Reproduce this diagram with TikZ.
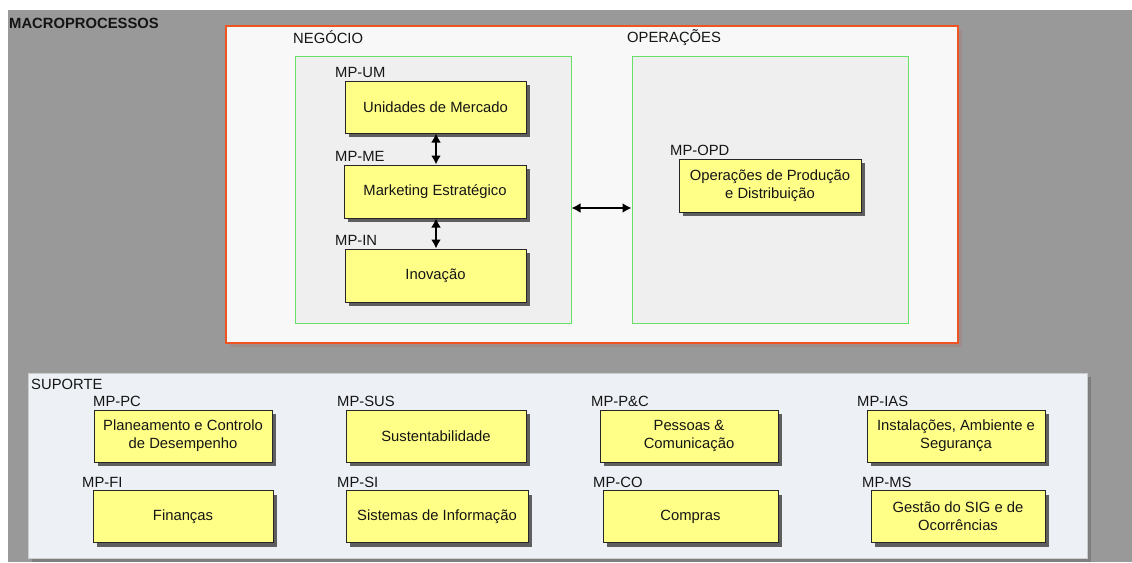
\documentclass[tikz,border=0pt]{standalone}
\usepackage{fontspec}
\setmainfont{Liberation Sans}
\usetikzlibrary{arrows.meta}

\definecolor{bggray}{HTML}{999999}
\definecolor{redline}{HTML}{EE5522}
\definecolor{panelfill}{HTML}{F8F8F8}
\definecolor{panelshadow}{HTML}{9E8C8A}
\definecolor{supshadow}{HTML}{7E7E7E}
\definecolor{greenline}{HTML}{66E066}
\definecolor{groupfill}{HTML}{EFEFEF}
\definecolor{procfill}{HTML}{FFFF88}
\definecolor{procshadow}{HTML}{5E5E5E}
\definecolor{supfill}{HTML}{EDF0F5}
\definecolor{supline}{HTML}{CCCCCC}
\definecolor{txt}{HTML}{151515}

\tikzset{
  panel/.style={draw=redline, line width=1.8pt, fill=panelfill, inner sep=0pt,
    preaction={fill=panelshadow, transform canvas={xshift=4pt,yshift=-4pt}}},
  group/.style={draw=greenline, line width=1pt, fill=groupfill, inner sep=0pt},
  support/.style={draw=supline, line width=1pt, fill=supfill, inner sep=0pt,
    preaction={fill=supshadow, transform canvas={xshift=4pt,yshift=-4pt}}},
  proc/.style={draw=black!85, line width=1pt, fill=procfill, inner sep=0pt,
    align=center, text=txt, minimum height=52pt,
    preaction={fill=procshadow, transform canvas={xshift=4pt,yshift=-4pt}}},
  lbl/.style={anchor=base west, inner sep=0pt, text=txt},
  twoway/.style={line width=2pt, black,
    {Latex[length=9pt,width=10pt]}-{Latex[length=9pt,width=10pt]}},
}

\begin{document}
\begin{tikzpicture}[x=1pt, y=-1pt, font=\fontsize{14.8}{18}\selectfont]
  \useasboundingbox (0,0) rectangle (1132,562);
  \fill[bggray] (8,10) rectangle (1132,562);

  \node[lbl, font=\fontsize{14.8}{18}\selectfont\bfseries] (title) at (9,28) {MACROPROCESSOS};

  % core processes panel
  \node[panel, minimum width=732pt, minimum height=317pt] (core) at (592,184.5) {};
  \node[lbl] (negt) at (293,43) {NEGÓCIO};
  \node[lbl] (opet) at (627,42.5) {OPERAÇÕES};

  \node[group, minimum width=276pt, minimum height=267pt] (neg) at (433,189.5) {};
  \node[group, minimum width=276pt, minimum height=267pt] (ope) at (770,189.5) {};

  \node[lbl] (umt) at (335,77) {MP-UM};
  \node[proc, minimum width=181pt] (um) at (435.5,107) {Unidades de Mercado};
  \node[lbl] (met) at (335,161.5) {MP-ME};
  \node[proc, minimum width=182pt, minimum height=53pt] (me) at (435,191.5) {Marketing Estratégico};
  \node[lbl] (int) at (335,245.5) {MP-IN};
  \node[proc, minimum width=181pt, minimum height=53pt] (in) at (435.5,275.5) {Inovação};

  \node[lbl] (opdt) at (670,155) {MP-OPD};
  \node[proc, minimum width=182pt, minimum height=53pt] (opd) at (770,185.5) {Operações de Produção\\e Distribuição};

  \draw[twoway] (um.south -| 436,0) -- (me.north -| 436,0);
  \draw[twoway] (me.south -| 436,0) -- (in.north -| 436,0);
  \draw[twoway] ([yshift=-18.5pt]neg.east) -- ([yshift=-18.5pt]ope.west);

  % support processes panel
  \node[support, minimum width=1059pt, minimum height=185pt] (sup) at (557.5,465.5) {};
  \node[lbl] (supt) at (31,389) {SUPORTE};

  \node[lbl] (pct) at (93,406.5) {MP-PC};
  \node[proc, minimum width=178pt] (pc) at (183,436) {Planeamento e Controlo\\de Desempenho};
  \node[lbl] (sust) at (337,406.5) {MP-SUS};
  \node[proc, minimum width=180pt] (sus) at (436,436) {Sustentabilidade};
  \node[lbl] (pnct) at (591,406.5) {MP-P\&C};
  \node[proc, minimum width=178pt] (pnc) at (689,436) {Pessoas \&\\Comunicação};
  \node[lbl] (iast) at (857,406.5) {MP-IAS};
  \node[proc, minimum width=178pt] (ias) at (956,436) {Instalações, Ambiente e\\Segurança};

  \node[lbl] (fit) at (82,487.5) {MP-FI};
  \node[proc, minimum width=180pt] (fi) at (183,516.5) {Finanças};
  \node[lbl] (sit) at (337,487.5) {MP-SI};
  \node[proc, minimum width=182pt] (si) at (437,516.5) {Sistemas de Informação};
  \node[lbl] (cot) at (593,487.5) {MP-CO};
  \node[proc, minimum width=175pt] (co) at (690.5,516.5) {Compras};
  \node[lbl] (mst) at (862,487.5) {MP-MS};
  \node[proc, minimum width=174pt] (ms) at (958,516.5) {Gestão do SIG e de\\Ocorrências};
\end{tikzpicture}
\end{document}
